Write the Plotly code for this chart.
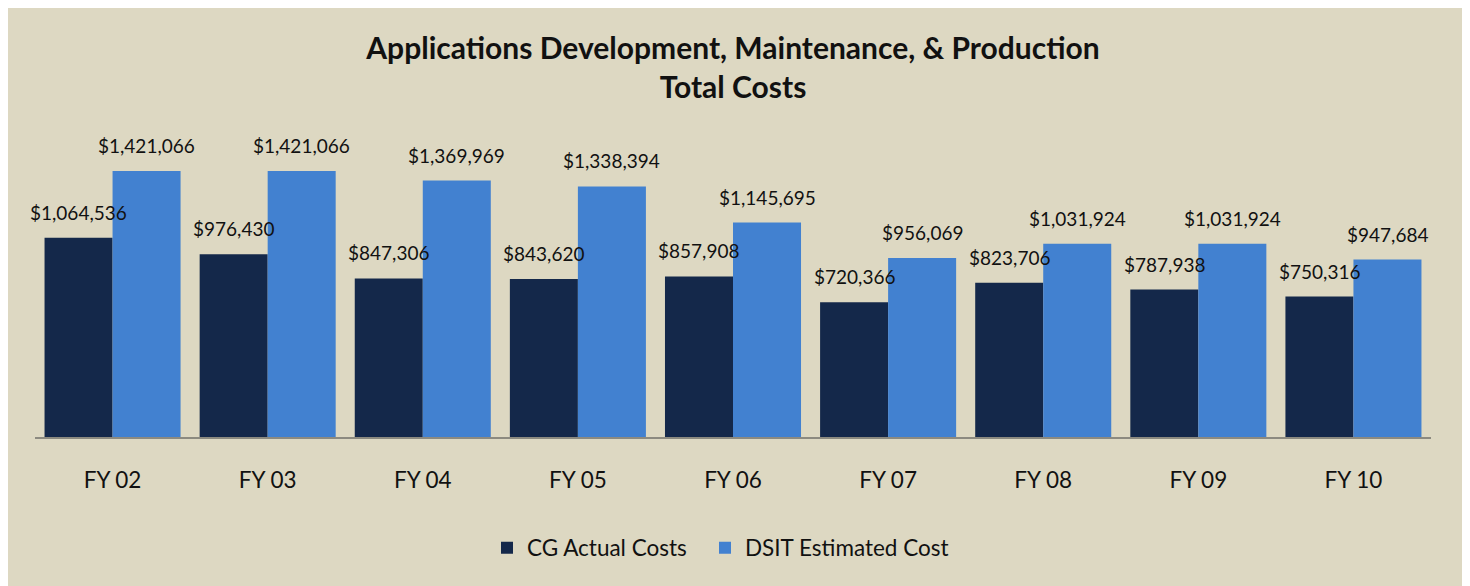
import plotly.graph_objects as go

categories = ["FY 02", "FY 03", "FY 04", "FY 05", "FY 06", "FY 07", "FY 08", "FY 09", "FY 10"]
cg_actual = [1064536, 976430, 847306, 843620, 857908, 720366, 823706, 787938, 750316]
dsit_estimated = [1421066, 1421066, 1369969, 1338394, 1145695, 956069, 1031924, 1031924, 947684]
series_names = ["CG Actual Costs", "DSIT Estimated Cost"]
title_text = "Applications Development, Maintenance, & Production<br>Total Costs"

# page body adds an 8px margin; work in figure pixels = reference pixels - 8
OFF = 8
W, H = 1470 - OFF, 586 - OFF
ML, MR, MT, MB = 35 - OFF, 39, 130 - OFF, 149
PW = W - ML - MR
PH = H - MT - MB
BG = "#DDD8C2"
FONT = "Lato"

fig = go.Figure()
fig.add_trace(go.Bar(x=categories, y=cg_actual, name=series_names[0], legend="legend",
                     marker=dict(color="#14284A", line=dict(width=0))))
fig.add_trace(go.Bar(x=categories, y=dsit_estimated, name=series_names[1], legend="legend2",
                     marker=dict(color="#4281D0", line=dict(width=0))))

bargap = 0.123
cat_w = PW / len(categories)
bar_w = cat_w * (1 - bargap) / 2
annotations = []
for vals, sh in ((cg_actual, -bar_w / 2), (dsit_estimated, bar_w / 2)):
    for c, v in zip(categories, vals):
        annotations.append(dict(x=c, y=v, xref="x", yref="y", text=f"${v:,.0f}",
                                showarrow=False, xshift=sh, yanchor="bottom", yshift=12,
                                font=dict(family=FONT, size=19, color="#111111")))

def px_x(p):
    return (p - OFF - ML) / PW

def px_y(p):
    return (H - MB - (p - OFF)) / PH

shapes = [
    dict(type="rect", xref="paper", yref="paper", x0=px_x(0), x1=px_x(1462), y0=px_y(600), y1=px_y(0),
         fillcolor=BG, line=dict(width=0), layer="below"),
    dict(type="rect", xref="paper", yref="paper", x0=px_x(1462), x1=px_x(1465), y0=px_y(600), y1=px_y(10),
         fillcolor="#A8A596", line=dict(width=0), layer="below"),
]

legend_common = dict(orientation="h", xanchor="left", y=px_y(548), yanchor="middle",
                     font=dict(family=FONT, size=22.5, color="#111111"), bgcolor="rgba(0,0,0,0)",
                     itemwidth=30, tracegroupgap=0)

fig.update_layout(
    width=W, height=H,
    margin=dict(l=ML, r=MR, t=MT, b=MB, pad=0),
    paper_bgcolor="white", plot_bgcolor="rgba(0,0,0,0)",
    barmode="group", bargap=bargap, bargroupgap=0,
    title=dict(text=f"<b>{title_text}</b>", x=0.5, xref="paper", xanchor="center",
               y=1 - (59 - OFF) / H, yanchor="middle",
               font=dict(family=FONT, size=30, color="#111111")),
    font=dict(family=FONT, color="#111111"),
    xaxis=dict(showline=True, linecolor="#8C8A80", linewidth=2, ticks="", showgrid=False,
               range=[-0.5, len(categories) - 0.5],
               tickfont=dict(family=FONT, size=22.5, color="#111111"), ticklabelstandoff=22),
    yaxis=dict(visible=False, range=[0, 1640000], showgrid=False, zeroline=False),
    legend=dict(x=px_x(487), **legend_common),
    legend2=dict(x=px_x(705), **legend_common),
    showlegend=True,
    annotations=annotations,
    shapes=shapes,
)

fig.write_html("out.html")
